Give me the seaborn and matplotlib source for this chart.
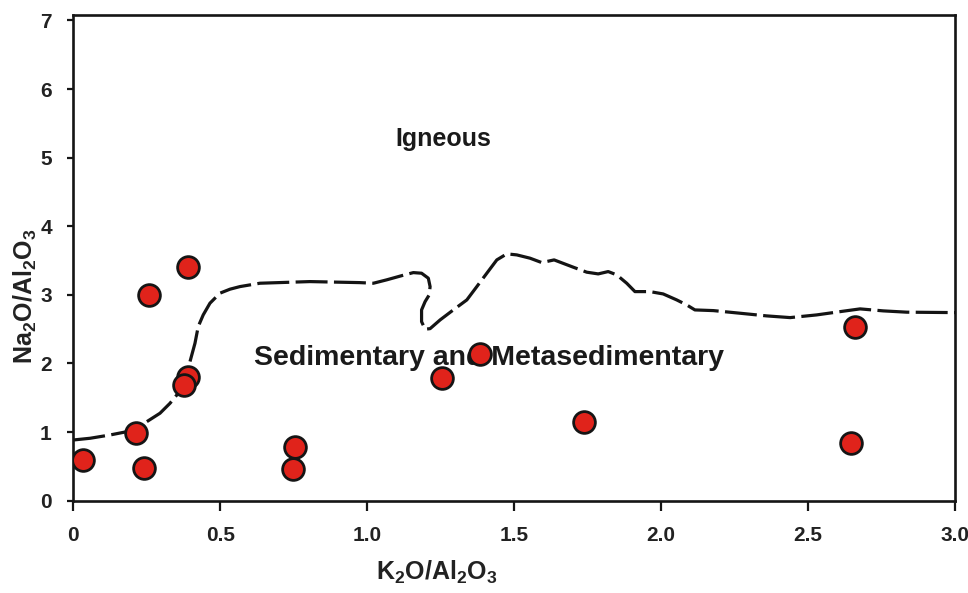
import matplotlib
matplotlib.use("Agg")
import matplotlib.pyplot as plt
import seaborn as sns
import pandas as pd

# ---- data ----
sample_k2o_al2o3 = [0.034, 0.213, 0.241, 0.259, 0.391, 0.389, 0.378, 0.754, 0.747,
                    1.254, 1.383, 1.736, 2.661, 2.647]
sample_na2o_al2o3 = [0.594, 0.983, 0.473, 3.000, 3.413, 1.808, 1.687, 0.788, 0.458,
                     1.785, 2.137, 1.152, 2.538, 0.837]

boundary_x = [0.000, 0.057, 0.125, 0.182, 0.250, 0.295, 0.329, 0.357, 0.380, 0.397,
              0.414, 0.425, 0.442, 0.465, 0.499, 0.533, 0.567, 0.635, 0.805, 0.975,
              1.021, 1.066, 1.123, 1.157, 1.185, 1.208, 1.214, 1.211, 1.197, 1.185,
              1.185, 1.197, 1.214, 1.248, 1.293, 1.339, 1.373, 1.407, 1.441, 1.475,
              1.509, 1.554, 1.594, 1.636, 1.701, 1.747, 1.786, 1.820, 1.849, 1.883,
              1.911, 1.962, 2.007, 2.053, 2.087, 2.115, 2.178, 2.268, 2.359, 2.439,
              2.529, 2.609, 2.677, 2.756, 2.836, 3.000]
boundary_y = [0.885, 0.910, 0.958, 1.006, 1.152, 1.275, 1.420, 1.566, 1.760, 2.027,
              2.295, 2.538, 2.708, 2.879, 3.025, 3.083, 3.121, 3.170, 3.194, 3.179,
              3.170, 3.219, 3.287, 3.325, 3.316, 3.243, 3.121, 3.000, 2.902, 2.781,
              2.610, 2.500, 2.508, 2.635, 2.781, 2.927, 3.121, 3.316, 3.510, 3.598,
              3.583, 3.535, 3.471, 3.510, 3.404, 3.331, 3.306, 3.340, 3.292, 3.170,
              3.048, 3.048, 3.014, 2.927, 2.854, 2.781, 2.771, 2.733, 2.694, 2.669,
              2.708, 2.756, 2.796, 2.767, 2.748, 2.742]

x_ticks = [0, 0.5, 1.0, 1.5, 2.0, 2.5, 3.0]
x_tick_labels = ["0", "0.5", "1.0", "1.5", "2.0", "2.5", "3.0"]
y_ticks = [0, 1, 2, 3, 4, 5, 6, 7]
y_tick_labels = ["0", "1", "2", "3", "4", "5", "6", "7"]

region_labels = ["Igneous", "Sedimentary and Metasedimentary"]

# ---- style ----
sns.set_style("ticks")
plt.rcParams["font.family"] = ["Liberation Sans", "DejaVu Sans"]
plt.rcParams["font.weight"] = "bold"
plt.rcParams["mathtext.fontset"] = "custom"
plt.rcParams["mathtext.bf"] = "Liberation Sans:bold"
plt.rcParams["mathtext.rm"] = "Liberation Sans:bold"

fig = plt.figure(figsize=(9.68, 5.93), dpi=100)
ax = fig.add_axes([73.3 / 968, (593 - 500.7) / 593, (955 - 73.3) / 968, (500.7 - 15) / 593])

pts = pd.DataFrame({"x": sample_k2o_al2o3, "y": sample_na2o_al2o3})
bnd = pd.DataFrame({"x": boundary_x, "y": boundary_y})

sns.lineplot(data=bnd, x="x", y="y", sort=False, estimator=None, ax=ax,
             color="#141414", linewidth=2.3, zorder=2,
             dashes=False)
ax.lines[-1].set_dashes([10, 2.0])

sns.scatterplot(data=pts, x="x", y="y", ax=ax, s=245, color="#e0231b",
                edgecolor="#151515", linewidth=2.0, zorder=4, legend=False)

ax.text(1.258, 5.275, region_labels[0], ha="center", va="center",
        fontsize=18, fontweight="bold", color="#1a1a1a", zorder=1)
ax.text(1.414, 2.08, region_labels[1], ha="center", va="center",
        fontsize=20.5, fontweight="bold", color="#1a1a1a", zorder=1)

ax.set_xlim(0, 3.0)
ax.set_ylim(0, 7.08)
ax.set_xticks(x_ticks)
ax.set_xticklabels(x_tick_labels)
ax.set_yticks(y_ticks)
ax.set_yticklabels(y_tick_labels)

for sp in ax.spines.values():
    sp.set_linewidth(1.9)
    sp.set_color("#151515")

ax.tick_params(axis="x", direction="out", length=7.5, width=1.6, pad=11,
               labelsize=15, colors="#151515")
ax.tick_params(axis="y", direction="out", length=4.5, width=1.6, pad=11,
               labelsize=15, colors="#151515")
for lab in ax.get_xticklabels() + ax.get_yticklabels():
    lab.set_fontweight("bold")
    lab.set_color("#222222")

ax.set_xlabel(r"$\mathbf{K_2O/Al_2O_3}$", fontsize=18, ha="center", va="center",
              color="#222222")
ax.xaxis.set_label_coords((437 - 73.3) / 881.7, (500.7 - 572) / 485.7)
ax.set_ylabel(r"$\mathbf{Na_2O/Al_2O_3}$", fontsize=18, ha="center", va="center",
              color="#222222")
ax.yaxis.set_label_coords((25 - 73.3) / 881.7, (500.7 - 296) / 485.7)

fig.savefig("out.png", dpi=100)
